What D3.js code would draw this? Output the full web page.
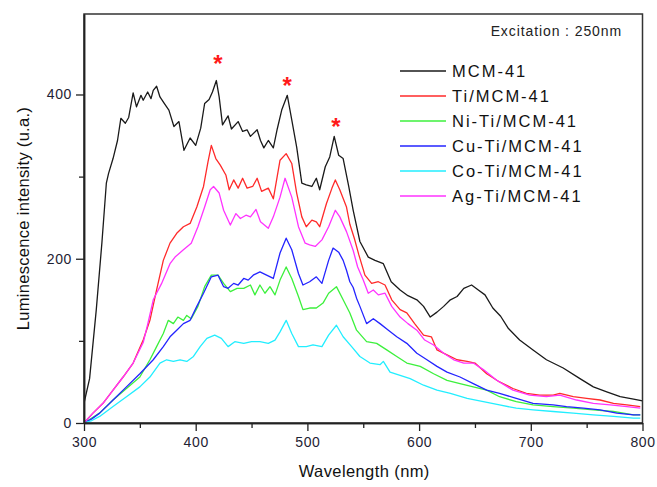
<!DOCTYPE html>
<html>
<head>
<meta charset="utf-8">
<script src="https://cdn.jsdelivr.net/npm/d3@7"></script>
<style>
  body { margin: 0; background: #fff; }
  text { font-family: "Liberation Sans", Arial, sans-serif; }
</style>
</head>
<body>
<div id="chart"></div>
<script>
// Luminescence spectra, excitation 250 nm

// === data: [wavelength (nm), intensity (u.a.)] ===
const mcm41 = [[300,24],[305,54],[311,138],[316,219],[320,292],[322,304],[326,322],[330,344],[333,371],[337,365],[340,372],[344,402],[347,385],[351,399],[353,393],[357,403],[360,395],[362,405],[365,410],[368,397],[372,389],[376,381],[380.5,361],[385,367],[389.5,332],[395,347],[400,338],[404.5,359],[408,389],[412,394],[415,403],[418.5,417],[421,397],[424,363],[429,374],[432,358],[438,367],[442,355],[446,357],[449,349],[455,357],[458,344],[461,335],[465,344],[469.5,335],[473,358],[477,381],[482,399],[486,369],[490.4,336],[495,292],[499,290],[504,288],[508,298],[511,284],[516,312],[520,324],[524,349],[528,326],[532,322],[537,288],[541,259],[547,221],[554.5,202],[560.5,198],[568,194],[575,172],[583,162],[590,155],[598,150],[604,142],[610,129],[616,135],[622,142],[628,150],[634,154],[640,164],[647,168],[653,162],[659,156],[666,140],[673,130],[680,115],[690,101],[702,89],[714,77],[729,67],[744,54],[756,44],[768,38],[780,32],[792,29],[800,27]];

const tiMcm = [[300,0],[308,12],[317,24],[326,40],[335,56],[344,73],[353,101],[359,125],[365,162],[371,198],[377,219],[383,231],[389,239],[395,243],[401,263],[407,288],[411,318],[414,338],[418,322],[422,314],[427,302],[430,284],[434,296],[438,286],[442,298],[446,286],[451,288],[455,298],[459,282],[465,286],[469.5,273],[475.5,320],[481,328],[486,316],[490.4,280],[495,251],[499,239],[504,247],[508,245],[511,239],[517,267],[522,286],[525,296],[529,284],[535,263],[538,242],[542,225],[546,205],[551.5,180],[557.5,170],[563.5,172],[569.5,168],[575.5,150],[583,138],[589,134],[596,121],[604,107],[611,105],[616,89],[625,83],[634,77],[643,75],[650,73],[660.5,60],[672,50],[684,42],[696,36],[708,34],[720,34],[726,36],[738,32],[750,30],[762,28],[774,24],[786,22],[798,20]];

const niTiMcm = [[300,0],[307,6],[314,12],[326,28],[338,42],[350,56],[359,77],[365,93],[371,109],[375.5,125],[380,121],[384,129],[389,125],[392,131],[396,127],[402,142],[408,166],[414,180],[420,180],[425,170],[431,160],[437,164],[443,164],[449,168],[453,156],[457.5,168],[462,158],[466.5,166],[471,156],[475.5,174],[481,190],[486,176],[492,154],[496,138],[502,140],[508,140],[514,146],[519,158],[526,166],[532,150],[538,134],[544,113],[553,99],[562,97],[571,89],[580,81],[589,73],[601,69],[613,60],[625,52],[636.6,48],[648.5,44],[660.5,40],[672,32],[687,26],[702,22],[720,20],[738,18],[756,16],[774,14],[792,10],[798,10]];

const cuTiMcm = [[300,0],[307,5],[314,12],[326,28],[338,44],[350,60],[362,77],[371,93],[377,105],[383,113],[389,121],[395,125],[401,142],[407,158],[414,178],[420,180],[425,166],[429,164],[434,170],[438,168],[443,176],[447,174],[451.5,180],[457.5,184],[463.5,180],[469.5,176],[475.5,207],[481,225],[486,211],[492,182],[496,168],[502,172],[508,178],[513,170],[519,198],[523,213],[528,208],[532,198],[535,186],[538,172],[541,165],[544,152],[547,142],[553,121],[559,127],[565,121],[572.5,113],[580,105],[589,97],[598,85],[607,77],[616,69],[625,62],[636.6,56],[648.5,48],[660.5,40],[672,36],[687,30],[702,24],[720,22],[732,20],[747,18],[762,16],[777,12],[792,10],[798,10]];

const coTiMcm = [[300,0],[307,3],[314,8],[326,20],[338,32],[350,44],[359,56],[368,73],[374,77],[380,75],[386,77],[392,75],[398,81],[404,93],[410,103],[417,107],[423,103],[429,93],[435,99],[443,97],[450,99],[457.5,99],[465,97],[471,101],[475.5,111],[481,125],[486,109],[492,93],[499,93],[505,95],[513,93],[519,107],[526,119],[532,105],[539.6,93],[547,81],[556,73],[565,71],[568,75],[574,62],[583,58],[592,54],[604,46],[616,40],[628,36],[643,30],[657.5,26],[672,22],[687,18],[702,16],[720,14],[738,12],[756,10],[774,8],[792,6],[798,6]];

const agTiMcm = [[300,0],[308,12],[317,24],[326,40],[335,56],[344,73],[353,98],[357,120],[362,150],[369.5,170],[377,194],[381.5,202],[389,211],[396,219],[402,239],[408,263],[413,284],[416,288],[421,280],[425,259],[431,241],[436,255],[440,249],[445,253],[449,251],[454,260],[458,245],[465,237],[469.5,251],[475.5,275],[480,298],[486,275],[492,239],[498,219],[502,217],[507,215],[513,223],[519,239],[525,259],[529,251],[535,233],[541,210],[545,190],[550,174],[554.5,158],[559,162],[563.5,156],[569.5,158],[575.5,142],[583,129],[590,121],[598,113],[605,101],[613,95],[622,85],[631,77],[640,73],[648.5,73],[657.5,65],[669.5,52],[684,40],[699,34],[714,32],[726,34],[741,28],[756,24],[771,22],[786,20],[798,18]];

const seriesNames = ["MCM-41", "Ti/MCM-41", "Ni-Ti/MCM-41", "Cu-Ti/MCM-41", "Co-Ti/MCM-41", "Ag-Ti/MCM-41"];
const seriesData = [mcm41, tiMcm, niTiMcm, cuTiMcm, coTiMcm, agTiMcm];
const seriesColors = ["#1a1a1a", "#ff2a2a", "#3cf03c", "#2424ff", "#22eeff", "#ff33ff"];

const xTicks = [300, 400, 500, 600, 700, 800];
const xMinorTicks = [350, 450, 550, 650, 750];
const yTicks = [0, 200, 400];
const yMinorTicks = [100, 300];

// red asterisks above the three peaks
const starWavelengths = [420, 482, 525.5];
const starIntensities = [443, 416, 366];

(function(){
  const W = 657, H = 487;
  const margin = { top: 14, right: 14.5, bottom: 64, left: 84 };
  const innerW = W - margin.left - margin.right;
  const innerH = H - margin.top - margin.bottom;

  const svg = d3.select("#chart").append("svg")
    .attr("width", W).attr("height", H);

  const g = svg.append("g")
    .attr("transform", `translate(${margin.left},${margin.top})`);

  const x = d3.scaleLinear().domain([300, 800]).range([0, innerW]);
  const y = d3.scaleLinear().domain([0, 498]).range([innerH, 0]);

  g.append("clipPath").attr("id", "plotClip")
    .append("rect").attr("width", innerW).attr("height", innerH);

  // curves
  const line = d3.line().x(d => x(d[0])).y(d => y(d[1]));
  g.append("g").attr("clip-path", "url(#plotClip)")
    .selectAll("path")
    .data(seriesData)
    .enter().append("path")
    .attr("d", line)
    .attr("fill", "none")
    .attr("stroke", (d, i) => seriesColors[i])
    .attr("stroke-width", 1.3)
    .attr("stroke-linejoin", "round");

  // frame (top + right)
  g.append("rect")
    .attr("width", innerW).attr("height", innerH)
    .attr("fill", "none").attr("stroke", "#333").attr("stroke-width", 1.5);

  // axes
  g.append("g").attr("transform", `translate(0,${innerH})`)
    .call(d3.axisBottom(x).tickValues(xTicks).tickSize(8).tickSizeOuter(0).tickPadding(6));
  g.append("g").attr("transform", `translate(0,${innerH})`)
    .call(d3.axisBottom(x).tickValues(xMinorTicks).tickSize(5).tickSizeOuter(0).tickFormat(""));
  g.append("g")
    .call(d3.axisLeft(y).tickValues(yTicks).tickSize(8).tickSizeOuter(0).tickPadding(4));
  g.append("g")
    .call(d3.axisLeft(y).tickValues(yMinorTicks).tickSize(5).tickSizeOuter(0).tickFormat(""));

  g.selectAll(".domain").attr("stroke", "#222").attr("stroke-width", 1.5);
  g.selectAll(".tick line").attr("stroke", "#222").attr("stroke-width", 1.3);
  g.selectAll(".tick text")
    .attr("font-family", "'Liberation Sans', Arial, sans-serif")
    .attr("font-size", 14)
    .attr("letter-spacing", 0.6)
    .attr("fill", "#1e2233");

  // axis titles
  svg.append("text")
    .attr("x", margin.left + innerW / 2 + 1)
    .attr("y", 477)
    .attr("text-anchor", "middle")
    .attr("font-size", 16.5)
    .attr("letter-spacing", 0.4)
    .attr("fill", "#111")
    .text("Wavelength (nm)");

  svg.append("text")
    .attr("transform", `translate(29,${margin.top + innerH / 2}) rotate(-90)`)
    .attr("text-anchor", "middle")
    .attr("font-size", 16.5)
    .attr("letter-spacing", 0.3)
    .attr("fill", "#111")
    .text("Luminescence intensity (u.a.)");

  // stars
  g.selectAll(".star")
    .data(starWavelengths)
    .enter().append("text")
    .attr("class", "star")
    .attr("x", d => x(d))
    .attr("y", (d, i) => y(starIntensities[i]) + 13)
    .attr("text-anchor", "middle")
    .attr("font-size", 24)
    .attr("font-weight", "700")
    .attr("fill", "#ff1a1a")
    .text("*");

  // excitation note
  svg.append("text")
    .attr("x", 622).attr("y", 36)
    .attr("text-anchor", "end")
    .attr("font-size", 14)
    .attr("letter-spacing", 0.9)
    .attr("fill", "#222")
    .text("Excitation : 250nm");

  // legend
  const legend = svg.append("g").attr("transform", "translate(400,71)");
  const item = legend.selectAll("g")
    .data(seriesNames)
    .enter().append("g")
    .attr("transform", (d, i) => `translate(0,${i * 25})`);
  item.append("line")
    .attr("x1", 0).attr("x2", 46)
    .attr("stroke", (d, i) => seriesColors[i])
    .attr("stroke-width", 1.4);
  item.append("text")
    .attr("x", 52).attr("y", 6)
    .attr("font-size", 16.5)
    .attr("letter-spacing", 2)
    .attr("fill", "#111")
    .text(d => d);
})();
</script>
</body>
</html>
